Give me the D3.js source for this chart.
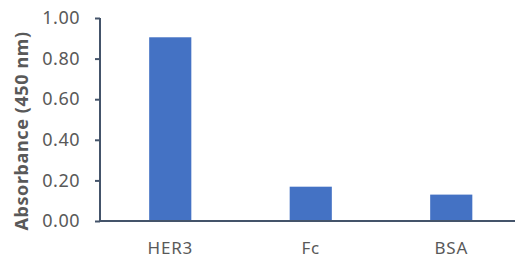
<!DOCTYPE html>
<html>
<head>
<meta charset="utf-8">
<script src="https://cdn.jsdelivr.net/npm/d3@7"></script>
<style>
  body { margin: 0; background: #fff; }
  text { font-family: "Noto Sans", sans-serif; fill: #595959; }
</style>
</head>
<body>
<div id="chart"></div>
<script>
// data
var categories = ["HER3", "Fc", "BSA"];
var values = [0.905, 0.169, 0.13];
var yTicks = [0, 0.2, 0.4, 0.6, 0.8, 1.0];

var width = 515, height = 260;
var svg = d3.select("#chart").append("svg")
  .attr("width", width).attr("height", height);

var x = d3.scaleBand().domain(categories).range([100, 521.5])
  .paddingInner(0.7).paddingOuter(0.35);
var y = d3.scaleLinear().domain([0, 1]).range([221, 18]);

// bars
svg.append("g").selectAll("rect")
  .data(values)
  .enter().append("rect")
  .attr("x", function (d, i) { return x(categories[i]); })
  .attr("y", function (d) { return y(d); })
  .attr("width", x.bandwidth())
  .attr("height", function (d) { return y(0) - y(d); })
  .attr("fill", "#4472c4");

// y axis
var yAxis = svg.append("g").attr("transform", "translate(100,0)")
  .call(d3.axisLeft(y).tickValues(yTicks).tickSize(5).tickPadding(15)
    .tickFormat(d3.format(".2f")));
yAxis.selectAll("line, path").attr("stroke", "#44546a").attr("stroke-width", 2);
yAxis.select("path").attr("d", "M0," + y(1) + "V" + y(0));
yAxis.selectAll("text").style("font-size", "18px").style("letter-spacing", "0.5px")
  .attr("fill", "#595959");

// x axis
var xAxis = svg.append("g").attr("transform", "translate(0," + y(0) + ")")
  .call(d3.axisBottom(x).tickSize(0).tickPadding(21));
xAxis.select("path").attr("stroke", "#44546a").attr("stroke-width", 2)
  .attr("d", "M99,0H515");
xAxis.selectAll("text").style("font-size", "17px").style("letter-spacing", "0.8px")
  .attr("fill", "#595959");

// y title
svg.append("text")
  .attr("transform", "translate(28," + 131 + ") rotate(-90)")
  .attr("text-anchor", "middle")
  .style("font-size", "18px")
  .style("font-weight", "bold")
  .style("letter-spacing", "0.6px")
  .text("Absorbance (450 nm)");
</script>
</body>
</html>
